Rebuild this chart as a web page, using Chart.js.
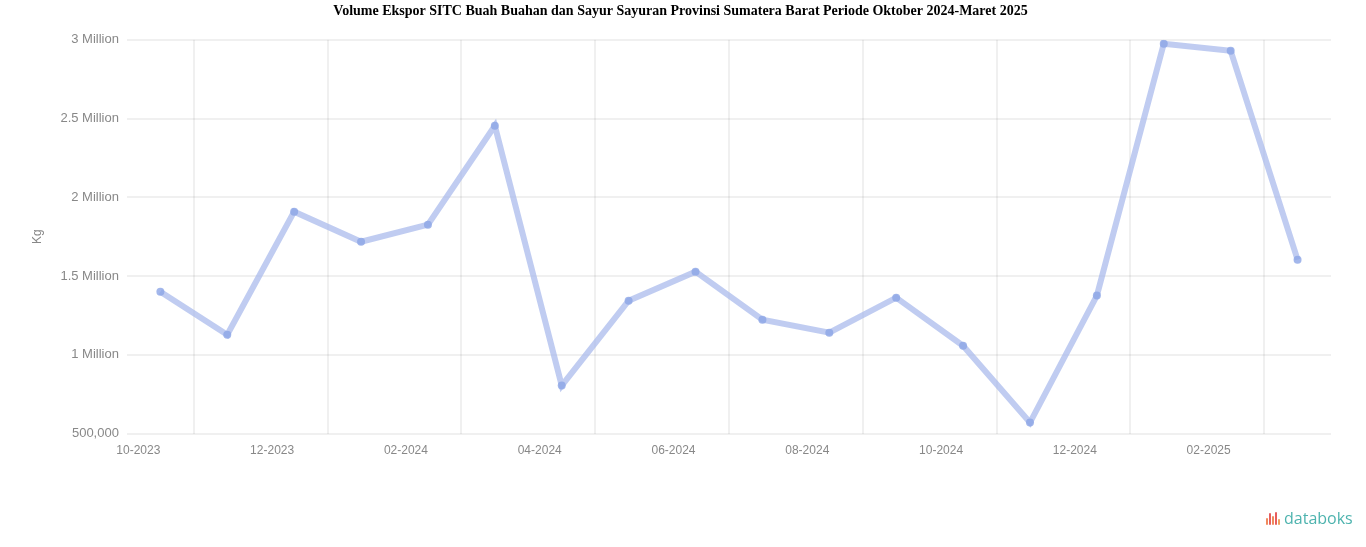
<!DOCTYPE html>
<html>
<head>
<meta charset="utf-8">
<script src="https://cdn.jsdelivr.net/npm/chart.js@4.4.1/dist/chart.umd.min.js"></script>
<style>
  html, body { margin: 0; padding: 0; background: #fff; }
  #wrap { position: relative; width: 1366px; height: 547px; }
  #logo { position: absolute; left: 1266px; top: 507px; font-family: 'Open Sans', 'DejaVu Sans', sans-serif; font-size: 16px; color: #4db3ae; display: flex; align-items: center; }
  #logo .ic { display: inline-flex; align-items: flex-end; height: 14px; margin-right: 3px; }
  #logo .ic span { display: inline-block; width: 2px; margin-right: 1px; border-radius: 1px; }
</style>
</head>
<body>
<div id="wrap">
  <canvas id="c" width="1366" height="547"></canvas>
  <div id="logo"><span class="ic"><span style="height:7px;background:#f08a5d"></span><span style="height:12px;background:#e85d5d"></span><span style="height:9px;background:#f08a5d"></span><span style="height:13px;background:#e85d5d"></span><span style="height:6px;background:#f0a05d"></span></span>databoks</div>
</div>
<script>
const categories = ["10-2023","11-2023","12-2023","01-2024","02-2024","03-2024","04-2024","05-2024","06-2024","07-2024","08-2024","09-2024","10-2024","11-2024","12-2024","01-2025","02-2025","03-2025"];
const volume = [1401000, 1128000, 1909000, 1718000, 1826000, 2454000, 805000, 1344000, 1528000, 1223000, 1141000, 1363000, 1058000, 570000, 1376000, 2975000, 2930000, 1604000];
const yTickLabels = {500000: "500,000", 1000000: "1 Million", 1500000: "1.5 Million", 2000000: "2 Million", 2500000: "2.5 Million", 3000000: "3 Million"};
const chartTitle = "Volume Ekspor SITC Buah Buahan dan Sayur Sayuran Provinsi Sumatera Barat Periode Oktober 2024-Maret 2025";
const yTitle = "Kg";

new Chart(document.getElementById('c'), {
  type: 'line',
  data: {
    labels: categories,
    datasets: [{
      data: volume,
      borderColor: 'rgba(165,183,235,0.7)',
      backgroundColor: 'rgba(140,165,230,0.8)',
      borderWidth: 6,
      pointRadius: 4,
      pointHoverRadius: 4,
      pointBorderWidth: 0,
      tension: 0,
      fill: false
    }]
  },
  options: {
    responsive: false,
    animation: false,
    layout: { padding: { left: 30, right: 35, top: 2, bottom: 79 } },
    plugins: {
      legend: { display: false },
      tooltip: { enabled: false },
      title: {
        display: true,
        text: chartTitle,
        color: '#000',
        font: { family: "'Liberation Serif', 'Times New Roman', serif", size: 14, weight: 'bold' },
        padding: { top: 1, bottom: 20 }
      }
    },
    scales: {
      x: {
        type: 'category',
        offset: true,
        border: { display: false },
        grid: {
          offset: true,
          drawTicks: false,
          color: (ctx) => (ctx.index % 2 === 1 ? 'rgba(0,0,0,0.06)' : 'rgba(0,0,0,0)'),
          lineWidth: 2
        },
        ticks: {
          autoSkip: false,
          maxRotation: 0,
          minRotation: 0,
          align: 'end',
          padding: 10,
          color: '#888',
          font: { family: "'Liberation Sans', Arial, sans-serif", size: 12 },
          callback: function(v, i) { return i % 2 === 0 ? this.getLabelForValue(v) : ''; }
        }
      },
      y: {
        min: 500000,
        max: 3000000,
        border: { display: false },
        grid: { drawTicks: false, color: 'rgba(0,0,0,0.06)', lineWidth: 2 },
        ticks: {
          stepSize: 500000,
          padding: 8,
          color: '#888',
          font: { family: "'Liberation Sans', Arial, sans-serif", size: 13 },
          callback: (v) => yTickLabels[v] ?? v
        },
        title: {
          display: true,
          text: yTitle,
          color: '#888',
          font: { family: "'Liberation Sans', Arial, sans-serif", size: 12 },
          padding: { top: 0, bottom: 8 }
        }
      }
    }
  }
});
</script>
</body>
</html>
